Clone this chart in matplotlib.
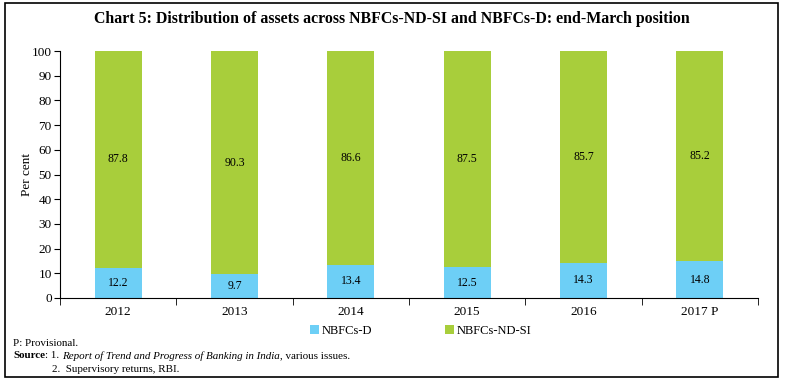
import matplotlib
matplotlib.use("Agg")
import matplotlib.pyplot as plt
from matplotlib.patches import Rectangle
import numpy as np

years = ["2012", "2013", "2014", "2015", "2016", "2017 P"]
nbfcs_d = [12.2, 9.7, 13.4, 12.5, 14.3, 14.8]
nbfcs_nd_si = [87.8, 90.3, 86.6, 87.5, 85.7, 85.2]

BLUE = "#6DCFF6"
GREEN = "#A8CE3B"
plt.rcParams["font.family"] = ["Liberation Serif", "DejaVu Serif"]

W, H = 786, 381
fig = plt.figure(figsize=(W / 100, H / 100), dpi=100)
ax = fig.add_axes([60 / W, 1 - 298 / H, (758 - 60) / W, (298 - 51) / H])

x = np.arange(len(years))
bw = 0.405
b1 = ax.bar(x, nbfcs_d, bw, color=BLUE, label="NBFCs-D")
b2 = ax.bar(x, nbfcs_nd_si, bw, bottom=nbfcs_d, color=GREEN, label="NBFCs-ND-SI")
for i in range(len(years)):
    ax.text(x[i], nbfcs_d[i] / 2, f"{nbfcs_d[i]:.1f}", ha="center", va="center", fontsize=8.5)
    ax.text(x[i], nbfcs_d[i] + nbfcs_nd_si[i] / 2, f"{nbfcs_nd_si[i]:.1f}", ha="center", va="center", fontsize=8.5)

ax.set_xlim(-0.5, len(years) - 0.5)
ax.set_ylim(0, 100)
ax.set_yticks(np.arange(0, 101, 10))
ax.set_xticks(x)
ax.set_xticklabels(years)
ax.set_xticks(np.arange(-0.5, len(years), 1), minor=True)
ax.tick_params(axis="x", which="major", length=0, labelsize=9.5, pad=6)
ax.tick_params(axis="x", which="minor", length=5, direction="out")
ax.tick_params(axis="y", length=4, labelsize=9.5, pad=2)
for s in ["top", "right"]:
    ax.spines[s].set_visible(False)
ax.set_ylabel("Per cent", fontsize=9.5)
ax.yaxis.set_label_coords((33 - 60) / 698, 0.5)

fig.text(392 / W, 1 - 19 / H,
         "Chart 5: Distribution of assets across NBFCs-ND-SI and NBFCs-D: end-March position",
         ha="center", va="center", fontsize=11.4, fontweight="bold")

fig.legend(handles=[b1, b2], labels=["NBFCs-D", "NBFCs-ND-SI"], loc="center",
           bbox_to_anchor=(421 / W, 1 - 331 / H), ncol=2, frameon=False,
           fontsize=9, handlelength=0.7, handleheight=0.7, handletextpad=0.25,
           columnspacing=5.8)

fig.canvas.draw()
r = fig.canvas.get_renderer()
FS = 7.9
def put(xpix, ypix, s, **kw):
    t = fig.text(xpix / W, 1 - ypix / H, s, fontsize=FS, va="center", **kw)
    bb = t.get_window_extent(renderer=r)
    return xpix + bb.width

put(13, 343, "P: Provisional.")
xp = put(13, 356, "Source", fontweight="bold")
xp = put(xp, 356, ": 1. ")
xp = put(xp, 356, "Report of Trend and Progress of Banking in India", style="italic")
xp = put(xp, 356, ", various issues.")
put(52, 369, "2.  Supervisory returns, RBI.")

fig.patches.append(Rectangle((4.5 / W, 1 - 377 / H), 773.5 / W, 374 / H, transform=fig.transFigure,
                             fill=False, edgecolor="black", linewidth=1.2))

fig.savefig("out.png", dpi=100)
